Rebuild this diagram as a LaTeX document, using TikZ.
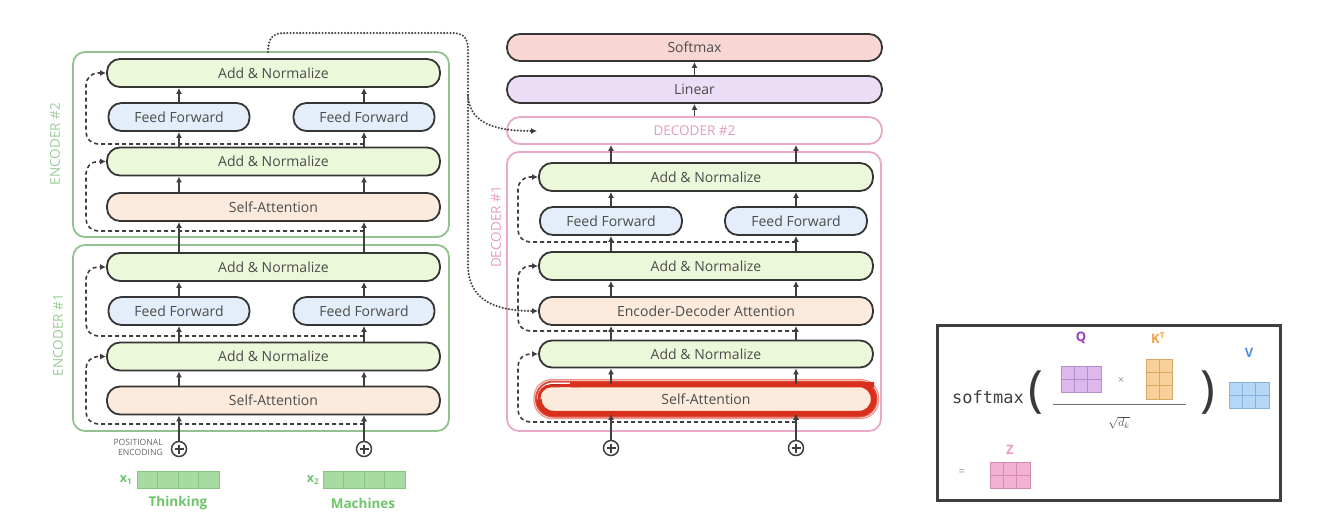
\documentclass[tikz,border=0pt]{standalone}
\usepackage{fontspec}
\setmainfont{Open Sans}
\setmonofont{DejaVu Sans Mono}
\usetikzlibrary{arrows.meta,calc}
\definecolor{boxborder}{HTML}{353535}
\definecolor{textgray}{HTML}{4C4C4C}
\definecolor{angreen}{HTML}{ECF8DA}
\definecolor{ffblue}{HTML}{E4EEFA}
\definecolor{sapeach}{HTML}{FCEBDD}
\definecolor{smpink}{HTML}{F7D6D3}
\definecolor{linpurple}{HTML}{EBDDF5}
\definecolor{encgreen}{HTML}{92C28E}
\definecolor{enctext}{HTML}{9ACB96}
\definecolor{decpink}{HTML}{E8A9C8}
\definecolor{dectext}{HTML}{E39CC0}
\definecolor{inputfill}{HTML}{A8DBA2}
\definecolor{inputline}{HTML}{86C481}
\definecolor{inputtext}{HTML}{6EC46A}
\definecolor{hlred}{HTML}{D9301E}
\definecolor{arrgray}{HTML}{3F3F3F}
\definecolor{qfill}{HTML}{DDB8EC}
\definecolor{qline}{HTML}{B58FCB}
\definecolor{qtext}{HTML}{9B3DB8}
\definecolor{kfill}{HTML}{F8CF98}
\definecolor{kline}{HTML}{D9A865}
\definecolor{ktext}{HTML}{F0A040}
\definecolor{vfill}{HTML}{B6D6F6}
\definecolor{vline}{HTML}{86B2DE}
\definecolor{vtext}{HTML}{4A90E0}
\definecolor{zfill}{HTML}{F2B0D2}
\definecolor{zline}{HTML}{D58AB2}
\definecolor{ztext}{HTML}{EC9AC2}
\newcommand{\drawmat}[6]{%
  \fill[#5] (#1,#2) rectangle ++(#3*13.33,#4*13.33);
  \draw[#6, line width=0.8pt, step=13.33pt, shift={(#1,#2)}] (0,0) grid (#3*13.33-0.1,#4*13.33-0.1);
  \draw[#6, line width=0.8pt] (#1,#2) rectangle ++(#3*13.33,#4*13.33);
}
\begin{document}
\begin{tikzpicture}[x=1pt,y=-1pt,
  box/.style={draw=boxborder, line width=1.8pt, rounded corners=13pt, text=textgray,
    font=\fontsize{14}{16}\selectfont, inner sep=0pt, minimum height=28pt},
  anbox/.style={box, fill=angreen, minimum width=333pt},
  ffbox/.style={box, fill=ffblue, minimum width=141pt},
  sabox/.style={box, fill=sapeach, minimum width=333pt},
  cont/.style={draw=#1, line width=1.8pt, rounded corners=12pt, inner sep=0pt},
  arr/.style={draw=arrgray, line width=1.6pt, -{Latex[length=6pt,width=6pt]}},
  res/.style={draw=arrgray, line width=1.6pt, dash pattern=on 4pt off 3pt, rounded corners=12pt, -{Latex[length=6pt,width=6pt]}},
  dots/.style={draw=arrgray, line width=2.3pt, dash pattern=on 0pt off 3.2pt, line cap=round, -{Latex[length=6pt,width=6pt]}},
  plus/.style={circle, draw=arrgray, line width=1.5pt, minimum size=15pt, inner sep=0pt,
    path picture={\draw[arrgray, line width=1.4pt] ($(path picture bounding box.center)+(-4.5,0)$) -- ($(path picture bounding box.center)+(4.5,0)$)
      ($(path picture bounding box.center)+(0,-4.5)$) -- ($(path picture bounding box.center)+(0,4.5)$);}},
  lbl/.style={font=\fontsize{13.5}{15}\selectfont, inner sep=0pt}
]
\useasboundingbox (0,0) rectangle (1326,524);

% ================= ENCODERS =================
\node[cont=encgreen, minimum width=376pt, minimum height=185pt] (enc2) at (261,144.5) {};
\node[cont=encgreen, minimum width=376pt, minimum height=186pt] (enc1) at (261,338) {};
\node[lbl, rotate=90, text=enctext] (enc2lbl) at (55,144) {ENCODER \#2};
\node[lbl, rotate=90, text=enctext] (enc1lbl) at (58,335) {ENCODER \#1};

% encoder 2
\node[anbox] (e2an2) at (273.5,73) {Add \& Normalize};
\node[ffbox] (e2ffL) at (179,117) {Feed Forward};
\node[ffbox] (e2ffR) at (364,117) {Feed Forward};
\node[anbox] (e2an1) at (273.5,161.5) {Add \& Normalize};
\node[sabox] (e2sa) at (273.5,207) {Self-Attention};
% encoder 1
\node[anbox] (e1an2) at (273.5,267) {Add \& Normalize};
\node[ffbox] (e1ffL) at (179,311) {Feed Forward};
\node[ffbox] (e1ffR) at (364,311) {Feed Forward};
\node[anbox] (e1an1) at (273.5,356.5) {Add \& Normalize};
\node[sabox] (e1sa) at (273.5,400.5) {Self-Attention};

% plus circles
\node[plus] (ep1) at (179,449) {};
\node[plus] (ep2) at (364,449) {};
\node[align=right, text=textgray!85, font=\fontsize{8.6}{9.5}\selectfont, inner sep=0pt, anchor=east] (poslbl) at (163,447.5) {POSITIONAL\\ENCODING};

% inputs
\foreach \i in {0,1,2,3} {
  \draw[fill=inputfill, draw=inputline, line width=0.9pt] (137+\i*20.5,471) rectangle ++(20.5,17);
  \draw[fill=inputfill, draw=inputline, line width=0.9pt] (323+\i*20.5,471) rectangle ++(20.5,17);
}
\node[text=inputtext, font=\bfseries\fontsize{12.5}{14}\selectfont, inner sep=0pt] (x1lbl) at (126,480) {x\textsubscript{\fontsize{8}{9}\selectfont 1}};
\node[text=inputtext, font=\bfseries\fontsize{12.5}{14}\selectfont, inner sep=0pt] (x2lbl) at (313,480) {x\textsubscript{\fontsize{8}{9}\selectfont 2}};
\node[text=inputtext, font=\bfseries\fontsize{13.5}{15}\selectfont, inner sep=0pt] (w1) at (178,503) {Thinking};
\node[text=inputtext, font=\bfseries\fontsize{13.5}{15}\selectfont, inner sep=0pt] (w2) at (363,503) {Machines};

% encoder arrows
\foreach \c in {e1ffL,e1ffR} {
  \draw[arr] (ep1.north -| \c) -- (e1sa.south -| \c);
  \draw[arr] (e1sa.north -| \c) -- (e1an1.south -| \c);
  \draw[arr] (e1an1.north -| \c) -- (\c.south);
  \draw[arr] (\c.north) -- (e1an2.south -| \c);
  \draw[arr] (e1an2.north -| \c) -- (e2sa.south -| \c);
}
\foreach \c in {e2ffL,e2ffR} {
  \draw[arr] (e2sa.north -| \c) -- (e2an1.south -| \c);
  \draw[arr] (e2an1.north -| \c) -- (\c.south);
  \draw[arr] (\c.north) -- (e2an2.south -| \c);
}
\draw[arr] (ep2) -- (e1sa.south -| e1ffR);

% residual connections (encoders)
\coordinate (e2r1) at (364,231);
\coordinate (e2r2) at (364,144);
\coordinate (e1r1) at (364,424);
\coordinate (e1r2) at (364,336);
\draw[res] (e2r1) -| (86,161.5) -- (e2an1.west);
\draw[res] (e2r2) -| (86,73) -- (e2an2.west);
\draw[res] (e1r1) -| (86,356.5) -- (e1an1.west);
\draw[res] (e1r2) -| (86,267) -- (e1an2.west);

% ================= DECODER =================
\node[box, fill=smpink, minimum width=375pt, minimum height=27pt] (smax) at (694.5,47.5) {Softmax};
\node[box, fill=linpurple, minimum width=375pt, minimum height=27pt] (lin) at (694.5,89.5) {Linear};
\node[box, draw=decpink, fill=white, text=dectext, minimum width=375pt, minimum height=27pt, font=\fontsize{13.5}{15}\selectfont] (dec2) at (694.5,130.5) {DECODER \#2};
\node[cont=decpink, minimum width=374pt, minimum height=279pt] (dec1) at (694,291.5) {};
\node[lbl, rotate=90, text=dectext] (dec1lbl) at (496,227) {DECODER \#1};

\node[anbox, minimum width=334pt] (dan3) at (706,177) {Add \& Normalize};
\node[ffbox, minimum width=142pt] (dffL) at (611,221) {Feed Forward};
\node[ffbox, minimum width=142pt] (dffR) at (796,221) {Feed Forward};
\node[anbox, minimum width=334pt] (dan2) at (706,266) {Add \& Normalize};
\node[sabox, minimum width=334pt] (deda) at (706,311) {Encoder-Decoder Attention};
\node[anbox, minimum width=334pt, minimum height=27pt] (dan1) at (706,354) {Add \& Normalize};

% highlighted self-attention
\node[sabox, minimum width=334pt] (dsa) at (706,399) {Self-Attention};
\draw[hlred!85, line width=1.2pt, opacity=0.6, rounded corners=18pt] (534,379.5) rectangle (878.5,418.5);
\draw[hlred, line width=2pt, opacity=0.85, rounded corners=17pt] (536,381.5) rectangle (876.5,416.5);
\draw[hlred, line width=5.5pt, rounded corners=14pt] (570,384.5) -- (860,384.5) -- (873.5,384.5) -- (873.5,413.5) -- (539,413.5) -- (539,400);
\draw[hlred, line width=3pt, rounded corners=12pt] (539,405) -- (539,386) -- (580,385.5);

\node[plus] (dp1) at (611,448) {};
\node[plus] (dp2) at (796,448) {};

% decoder arrows
\foreach \c in {dffL,dffR} {
  \draw[arr] (dp1.north -| \c) -- (dsa.south -| \c);
  \draw[arr] (dsa.north -| \c) -- (dan1.south -| \c);
  \draw[arr] (dan1.north -| \c) -- (deda.south -| \c);
  \draw[arr] (deda.north -| \c) -- (dan2.south -| \c);
  \draw[arr] (dan2.north -| \c) -- (\c.south);
  \draw[arr] (\c.north) -- (dan3.south -| \c);
  \draw[arr] (dan3.north -| \c) -- (dec2.south -| \c);
}
\draw[arr] (dp2) -- (dsa.south -| dffR);
\draw[arr] (dec2.north -| lin) -- (lin.south);
\draw[arr] (lin.north) -- (smax.south);

% residual connections (decoder)
\coordinate (dr1) at (796,422);
\coordinate (dr2) at (796,331);
\coordinate (dr3) at (796,242);
\draw[res] (dr1) -| (518,354) -- (dan1.west);
\draw[res] (dr2) -| (518,266) -- (dan2.west);
\draw[res] (dr3) -| (518,177) -- (dan3.west);

% dotted encoder output connections
\coordinate (dot0) at (268,52);
\coordinate (dotsplit) at (468,96);
\coordinate (dec2in) at (537,131);
\draw[dots] (dot0) .. controls (268,38) and (273,33) .. (285,33) -- (452,33)
  .. controls (464,33) and (468,38) .. (468,50) -- (468,265)
  .. controls (468,300) and (495,311) .. (deda.west);
\draw[dots] (dotsplit) .. controls (470,118) and (485,131) .. (dec2in);

% ================= FORMULA =================
\node[draw=arrgray, line width=3pt, minimum width=343pt, minimum height=175pt, inner sep=0pt] (fbox) at (1108.5,412.5) {};
\node[font=\ttfamily\fontsize{17}{20}\selectfont, text=arrgray, inner sep=0pt] (fsoft) at (988,397) {softmax};
\node[font=\fontsize{50}{50}\selectfont, text=arrgray!90!black, inner sep=0pt] (lpar) at (1036,393) {(};
\node[font=\fontsize{50}{50}\selectfont, text=arrgray!90!black, inner sep=0pt] (rpar) at (1208,393) {)};
\node[font=\bfseries\fontsize{13}{15}\selectfont, text=qtext, inner sep=0pt] (qlbl) at (1081,338) {Q};
\node[font=\bfseries\fontsize{13}{15}\selectfont, text=ktext, inner sep=0pt] (klbl) at (1158,338) {K\textsuperscript{\fontsize{8}{9}\selectfont T}};
\node[font=\bfseries\fontsize{13}{15}\selectfont, text=vtext, inner sep=0pt] (vlbl) at (1249,353) {V};
\node[font=\bfseries\fontsize{13}{15}\selectfont, text=ztext, inner sep=0pt] (zlbl) at (1010,450) {Z};
\drawmat{1061}{366}{3}{2}{qfill}{qline}
\drawmat{1146}{359}{2}{3}{kfill}{kline}
\drawmat{1229}{382}{3}{2}{vfill}{vline}
\drawmat{990}{462}{3}{2}{zfill}{zline}
\node[text=textgray, font=\fontsize{10}{12}\selectfont, inner sep=0pt] (times) at (1121,380) {$\times$};
\draw[textgray!80, line width=1pt] (1053,404) -- (1186,404);
\node[text=textgray, font=\fontsize{12}{14}\selectfont, inner sep=0pt] (sqrtdk) at (1119,423) {$\sqrt{d_k}$};
\node[text=textgray!50, font=\fontsize{12}{14}\selectfont, inner sep=0pt] (eqs) at (962,473) {=};
\end{tikzpicture}
\end{document}
